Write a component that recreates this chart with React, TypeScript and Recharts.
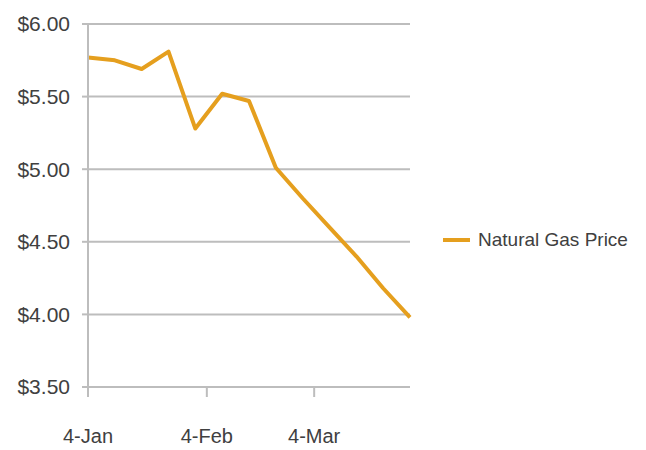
import { LineChart, Line, XAxis, YAxis, CartesianGrid, Legend } from 'recharts';

// days since 4-Jan, one point a week
const weekDays = [0, 7, 14, 21, 28, 35, 42, 49, 56, 63, 70, 77, 84];
const gasPrices = [5.77, 5.75, 5.69, 5.81, 5.28, 5.52, 5.47, 5.01, 4.8, 4.6, 4.4, 4.18, 3.98];

const xTickDays = [0, 31, 59];
const xTickLabels = ['4-Jan', '4-Feb', '4-Mar'];
const yTicks = [3.5, 4, 4.5, 5, 5.5, 6];

const seriesName = 'Natural Gas Price';

const FONT = '"Liberation Sans", Arial, sans-serif';
const TEXT = '#404040';
const GRID = '#BDBDBD';
const ORANGE = '#E59F1E';

const chartData = weekDays.map((d, i) => ({ day: d, price: gasPrices[i] }));

const LegendBox = (props: any) => {
  const { payload } = props;
  if (!payload) return null;
  return (
    <div>
      {payload.map((p: any) => (
        <div key={p.value} style={{ display: 'flex', alignItems: 'center', whiteSpace: 'nowrap' }}>
          <div style={{ width: 27, height: 4, background: p.color, marginRight: 8 }} />
          <span style={{ fontFamily: FONT, fontSize: 19, color: TEXT }}>{p.value}</span>
        </div>
      ))}
    </div>
  );
};

export default function App() {
  return (
    <div style={{ position: 'absolute', left: 0, top: 0, background: '#fff' }}>
      <LineChart
        width={646}
        height={450}
        data={chartData}
        margin={{ top: 24, right: 36, left: 0, bottom: 0 }}
      >
        <CartesianGrid vertical={false} stroke={GRID} strokeWidth={2} />
        <XAxis
          dataKey="day"
          type="number"
          domain={[0, 84]}
          ticks={xTickDays}
          tickFormatter={(v: number) => xTickLabels[xTickDays.indexOf(v)] ?? ''}
          stroke={GRID}
          strokeWidth={2}
          tickSize={10}
          tickMargin={32}
          height={63}
          tick={{ fill: TEXT, fontSize: 20, fontFamily: FONT }}
        />
        <YAxis
          type="number"
          domain={[3.5, 6]}
          ticks={yTicks}
          tickFormatter={(v: number) => `$${v.toFixed(2)}`}
          stroke={GRID}
          strokeWidth={2}
          tickSize={6}
          tickMargin={12}
          width={88}
          tick={{ fill: TEXT, fontSize: 21, fontFamily: FONT }}
        />
        <Legend
          layout="vertical"
          align="right"
          verticalAlign="middle"
          width={200}
          content={LegendBox}
          wrapperStyle={{ left: 443, top: 229, right: 'auto' }}
        />
        <Line
          type="linear"
          dataKey="price"
          name={seriesName}
          stroke={ORANGE}
          strokeWidth={4}
          strokeLinejoin="round"
          dot={false}
          isAnimationActive={false}
        />
      </LineChart>
    </div>
  );
}
